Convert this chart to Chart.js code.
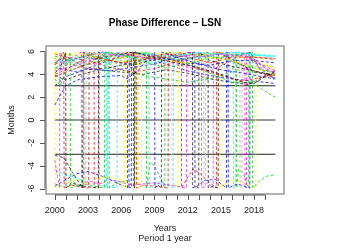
<!DOCTYPE html>
<html>
<head>
<meta charset="utf-8">
<script src="https://cdn.jsdelivr.net/npm/chart.js@4"></script>
<style>
  body { margin: 0; background: #fff; }
</style>
</head>
<body>
<canvas id="phaseChart" width="350" height="250"></canvas>
<script>
// phase difference series, [year, months]
const s0 = [[2000,-3.1],[2000.8,-3.3],[2001.6,-4.6],[2002.5,-5.95],[2002.56,5.95],[2003.5,5.3],[2005,5.6],[2007.1,5.95],[2007.14,-5.95],[2007.2,-5.95],[2007.24,5.95],[2009,5.4],[2011,5.0],[2013,4.6],[2015,4.0],[2017,3.3],[2018,3.2],[2019,3.8],[2019.9,4.2]];
const s1 = [[2000,4.8],[2000.5,5.5],[2000.8,5.95],[2000.84,-5.95],[2001.5,-5.7],[2002.5,-5.9],[2003.05,-5.95],[2003.1,5.95],[2004,5.4],[2006,5.0],[2008,5.3],[2010,5.5],[2012,4.8],[2014,4.2],[2015,3.9],[2017,3.4],[2018,3.6],[2019.9,4.0]];
const s2 = [[2000,3.6],[2000.5,3.0],[2001,4.5],[2001.38,5.95],[2001.42,-5.95],[2002.5,-5.6],[2003.5,-5.8],[2004.48,-5.95],[2004.52,5.95],[2006,5.7],[2008,5.1],[2010,4.6],[2012,4.9],[2014,5.4],[2016,5.6],[2017.85,5.95],[2017.87,-5.95],[2018.5,-5.3],[2019.2,-4.9],[2019.9,-4.8]];
const s3 = [[2000,1.3],[2000.5,2.2],[2001,3.0],[2002,3.5],[2004,3.8],[2006,3.9],[2006.5,3.6],[2007.5,4.3],[2008.5,5.5],[2009.02,5.95],[2009.04,-5.95],[2009.3,-5.7],[2009.62,-5.95],[2009.64,5.95],[2011,5.5],[2013,4.9],[2015,4.4],[2017,4.1],[2019.9,3.6]];
const s4 = [[2000,5.4],[2001,5.0],[2002,5.3],[2003.5,5.8],[2004.65,5.95],[2004.67,-5.95],[2004.78,-5.95],[2004.8,5.95],[2007,5.5],[2009,5.0],[2011,5.6],[2013,5.9],[2015,5.8],[2017,5.7],[2019.9,5.6]];
const s5 = [[2000,-3.5],[2000.2,-4.8],[2000.43,-5.95],[2000.45,5.95],[2001,5.2],[2002,5.7],[2002.39,5.95],[2002.41,-5.95],[2003,-5.3],[2004,-5.6],[2005,-5.2],[2007,-5.7],[2009,-5.5],[2011,-5.8],[2011.88,-5.95],[2011.9,5.95],[2013,5.5],[2015,5.8],[2017,5.6],[2019.9,4.3]];
const s6 = [[2000,5.95],[2000.03,-5.95],[2001,-5.5],[2002,-5.2],[2003,-5.6],[2004,-5.0],[2005,-5.0],[2006,-5.3],[2006.3,-5.95],[2006.33,5.95],[2008,5.6],[2010,5.2],[2012,5.0],[2014,5.5],[2016,5.2],[2018,4.6],[2019.9,3.9]];
const s7 = [[2000,4.4],[2001,4.9],[2002,5.5],[2002.69,5.95],[2002.71,-5.95],[2002.8,-5.9],[2002.82,5.95],[2005,5.5],[2008,5.2],[2011,5.7],[2013.45,5.95],[2013.47,-5.95],[2013.6,-5.9],[2013.62,5.95],[2015,5.5],[2017,4.9],[2019.9,4.4]];
const s8 = [[2000,4.1],[2000.5,4.6],[2000.98,5.95],[2001.0,-5.95],[2001.5,-5.5],[2002.5,-5.8],[2003.93,-5.95],[2003.95,5.95],[2005,5.2],[2007,4.8],[2009,5.3],[2011,5.7],[2012.43,5.95],[2012.45,-5.95],[2012.7,-5.8],[2013.0,-5.95],[2013.02,5.95],[2014,5.2],[2016,4.7],[2018,4.3],[2019.9,3.9]];
const s9 = [[2000,4.0],[2001,4.4],[2002,5.0],[2003,5.5],[2003.54,5.95],[2003.56,-5.95],[2003.8,-5.8],[2003.98,-5.95],[2004.0,5.95],[2006,5.8],[2008,5.4],[2010,5.8],[2012,5.5],[2014,5.0],[2016,5.5],[2018,5.5],[2019.9,5.4]];
const s10 = [[2000,5.6],[2001,5.3],[2002,4.6],[2003,4.9],[2004.2,5.6],[2004.89,5.95],[2004.91,-5.95],[2005.5,-5.6],[2006.5,-5.3],[2007.21,-5.95],[2007.23,5.95],[2009,5.6],[2011,5.3],[2013,4.5],[2015,3.7],[2016,3.3],[2018,3.2],[2019,2.5],[2019.9,2.0]];
const s11 = [[2000,-5.8],[2001,-5.2],[2002,-4.7],[2003,-4.5],[2004.5,-5.0],[2006,-5.7],[2006.91,-5.95],[2006.93,5.95],[2008,5.7],[2010,5.4],[2012,5.0],[2014,4.8],[2016,5.2],[2018,5.2],[2019.9,5.0]];
const s12 = [[2000,-4.4],[2001,-4.8],[2002,-5.1],[2003,-5.5],[2004.5,-5.8],[2005.62,-5.95],[2005.64,5.95],[2007,5.4],[2008.51,5.95],[2008.53,-5.95],[2009.5,-5.4],[2010.68,-5.95],[2010.7,5.95],[2012,5.4],[2014,5.7],[2016,5.9],[2018,5.8],[2019.9,5.6]];
const s13 = [[2000,4.9],[2002,5.4],[2004,5.9],[2006,5.6],[2008,5.8],[2010,5.5],[2012,5.6],[2013.24,5.95],[2013.26,-5.95],[2013.8,-5.5],[2014.3,-5.95],[2014.32,5.95],[2016,5.6],[2017,5.8],[2018,5.2],[2019.9,4.0]];
const s14 = [[2000,5.9],[2002,5.6],[2004,5.8],[2006,5.4],[2007.51,5.95],[2007.53,-5.95],[2007.7,-5.9],[2007.82,-5.95],[2007.84,5.95],[2009,5.8],[2011,5.9],[2013,5.6],[2015,5.9],[2017,5.5],[2019.9,4.5]];
const s15 = [[2000,5.2],[2002,5.0],[2004,4.8],[2006,5.2],[2008,4.8],[2010,5.0],[2012,5.4],[2014,5.8],[2016,5.9],[2016.71,5.95],[2016.73,-5.95],[2016.9,-5.95],[2016.92,5.95],[2018,5.0],[2019.9,4.6]];
const s16 = [[2000,5.0],[2001,5.6],[2002,5.0],[2003,4.4],[2005,4.6],[2007,5.0],[2009,5.5],[2011,5.2],[2013,5.6],[2013.84,5.95],[2013.86,-5.95],[2014.3,-5.8],[2014.75,-5.95],[2014.77,5.95],[2016,5.3],[2018,4.2],[2019.9,3.9]];
const s17 = [[2000,3.8],[2001,4.2],[2003,4.9],[2005,5.3],[2007.36,5.95],[2007.38,-5.95],[2008,-5.7],[2009,-5.8],[2010.23,-5.95],[2010.25,5.95],[2011,5.7],[2011.43,5.95],[2011.45,-5.95],[2012,-5.0],[2012.5,-4.3],[2013,-4.6],[2014,-5.5],[2014.6,-5.95],[2014.62,5.95],[2016,5.2],[2018,4.3],[2019.9,3.7]];
const s18 = [[2000,4.5],[2001,5.1],[2003,5.7],[2005,5.2],[2007,5.7],[2008.27,5.95],[2008.29,-5.95],[2008.6,-3.7],[2009,-4.0],[2009.5,-5.0],[2009.93,-5.95],[2009.95,5.95],[2011,5.5],[2013,5.8],[2015,5.4],[2017,4.8],[2019.9,4.1]];
const s19 = [[2000,3.0],[2001,3.8],[2003,4.5],[2005,4.3],[2007,4.6],[2009,4.9],[2011,5.5],[2012.64,5.95],[2012.66,-5.95],[2013.5,-5.3],[2014.5,-5.2],[2015.5,-5.95],[2015.52,5.95],[2015.6,5.9],[2015.65,5.95],[2015.67,-5.95],[2016.5,-5.6],[2017.61,-5.95],[2017.63,5.95],[2018.5,4.5],[2019.9,3.6]];
const s20 = [[2000,5.0],[2002,5.5],[2004,5.3],[2006,5.7],[2008,5.9],[2010,5.6],[2012,5.3],[2014,5.6],[2015.5,5.9],[2016.11,5.95],[2016.13,-5.95],[2016.3,-5.95],[2016.32,5.95],[2017,5.9],[2018,5.7],[2019.9,5.5]];
const s21 = [[2000,4.3],[2002,4.8],[2004,5.5],[2006,5.9],[2008,5.5],[2010,5.2],[2012,4.6],[2014,4.3],[2016,5.2],[2017.16,5.95],[2017.18,-5.95],[2017.25,-5.9],[2017.31,-5.95],[2017.33,5.95],[2018.5,4.5],[2019.9,4.2]];
const s22 = [[2000,5.5],[2002,5.9],[2004,5.4],[2006,5.1],[2008,5.3],[2010,5.7],[2010.53,5.95],[2010.55,-5.95],[2010.9,-5.6],[2011.13,-5.95],[2011.15,5.95],[2012,5.7],[2014,5.8],[2014.9,5.95],[2014.92,-5.95],[2016,-5.2],[2017,-5.5],[2018.15,-5.95],[2018.17,5.95],[2019,5.0],[2019.9,4.4]];
const s23 = [[2000,4.6],[2003,5.2],[2006,4.9],[2009,5.6],[2012,5.2],[2015,4.6],[2018,4.2],[2019.9,4.0]];
const s24 = [[2000,3.9],[2001,3.5],[2002,3.9],[2004,4.4],[2006,4.2],[2008,4.0],[2010,4.4],[2012,4.1],[2014,3.6],[2016,3.3],[2017.5,3.1],[2019,3.9],[2019.9,4.3]];
const s25 = [[2000,5.8],[2001,5.5],[2003,5.2],[2005,4.6],[2007,4.2],[2009,4.5],[2011,5.1],[2013,5.6],[2015,5.9],[2017,5.6],[2019.9,5.3]];
const s26 = [[2000,-5.6],[2001,-5.9],[2001.8,-5.5],[2002.6,-5.95],[2002.62,5.95],[2004,5.3],[2006,4.4],[2008,3.9],[2010,3.6],[2012,3.3],[2014,3.6],[2016,4.2],[2016.4,5.95],[2016.42,-5.95],[2016.6,-4.3],[2017,-4.6],[2017.5,-5.95],[2017.52,5.95],[2019,4.5],[2019.9,3.4]];
const s27 = [[2000,4.6],[2002,4.2],[2004,4.9],[2006,5.6],[2006.55,5.95],[2006.57,-5.95],[2006.7,-5.9],[2006.72,5.95],[2008,5.5],[2010,4.9],[2012,4.3],[2014,3.9],[2016,3.6],[2018,3.4],[2019.9,3.2]];

const series = [s0, s1, s2, s3, s4, s5, s6, s7, s8, s9, s10, s11, s12, s13,
                s14, s15, s16, s17, s18, s19, s20, s21, s22, s23, s24, s25, s26, s27];
const palette = ['rgba(0,0,0,0.7)', 'rgba(255,0,0,0.75)', 'rgba(0,205,0,0.75)', 'rgba(0,0,255,0.75)',
                 'rgba(0,255,255,0.8)', 'rgba(255,0,255,0.7)', 'rgba(255,255,0,0.9)', 'rgba(190,190,190,0.9)'];

// reference lines
const refLevels = [3, 0, -3];
const refColors = ['#222', '#999', '#222'];
const refWidths = [1, 2, 1];
const xStart = 2000, xEnd = 2019.92;

const xTicks = [];
for (let y = 2000; y <= 2019; y++) xTicks.push(y);
const xLabels = [2000, 2003, 2006, 2009, 2012, 2015, 2018];
const yTicks = [-6, -4, -2, 0, 2, 4, 6];

const datasets = series.map((s, i) => ({
    data: s.map(p => ({ x: p[0], y: p[1] })),
    borderColor: palette[i % palette.length],
    borderWidth: 1,
    borderDash: [3, 2],
    pointRadius: 0,
    tension: 0
}));
refLevels.forEach((v, i) => {
    datasets.push({
        data: [{ x: xStart, y: v }, { x: xEnd, y: v }],
        borderColor: refColors[i],
        borderWidth: refWidths[i],
        pointRadius: 0
    });
});

// R-style frame, axes and texts
const rFrame = {
    id: 'rFrame',
    afterDraw(chart) {
        const ctx = chart.ctx;
        const a = chart.chartArea;
        const xs = chart.scales.x, ys = chart.scales.y;
        ctx.save();
        ctx.strokeStyle = '#999';
        ctx.lineWidth = 1.5;
        ctx.strokeRect(a.left, a.top, a.right - a.left, a.bottom - a.top);

        ctx.strokeStyle = '#555';
        ctx.lineWidth = 1;
        ctx.fillStyle = '#222';
        ctx.font = '9px "Liberation Sans", Arial, sans-serif';
        ctx.textAlign = 'center';
        ctx.textBaseline = 'middle';
        // x axis
        const xb = a.bottom + 1;
        ctx.beginPath();
        ctx.moveTo(xs.getPixelForValue(xTicks[0]), xb);
        ctx.lineTo(xs.getPixelForValue(xTicks[xTicks.length - 1]), xb);
        xTicks.forEach(t => {
            const px = Math.round(xs.getPixelForValue(t)) + 0.5;
            ctx.moveTo(px, xb);
            ctx.lineTo(px, xb + 5);
        });
        ctx.stroke();
        xLabels.forEach(t => ctx.fillText(String(t), xs.getPixelForValue(t), xb + 16));
        // y axis
        const yl = a.left - 1;
        ctx.beginPath();
        ctx.moveTo(yl, ys.getPixelForValue(yTicks[0]));
        ctx.lineTo(yl, ys.getPixelForValue(yTicks[yTicks.length - 1]));
        yTicks.forEach(t => {
            const py = Math.round(ys.getPixelForValue(t)) + 0.5;
            ctx.moveTo(yl, py);
            ctx.lineTo(yl - 5, py);
        });
        ctx.stroke();
        yTicks.forEach(t => {
            ctx.save();
            ctx.translate(yl - 13, ys.getPixelForValue(t));
            ctx.rotate(-Math.PI / 2);
            ctx.fillText(String(t), 0, 0);
            ctx.restore();
        });
        // titles
        ctx.fillText('Years', 165, 229);
        ctx.fillText('Period 1 year', 165, 239);
        ctx.save();
        ctx.translate(12, 120);
        ctx.rotate(-Math.PI / 2);
        ctx.fillText('Months', 0, 0);
        ctx.restore();
        ctx.font = 'bold 10px "Liberation Sans", Arial, sans-serif';
        ctx.fillStyle = '#000';
        ctx.fillText('Phase Difference \u2013 LSN', 165, 23);
        ctx.restore();
    }
};

new Chart(document.getElementById('phaseChart'), {
    type: 'line',
    data: { datasets: datasets },
    options: {
        responsive: false,
        animation: false,
        layout: { padding: { left: 46, right: 66, top: 46, bottom: 56 } },
        plugins: { legend: { display: false }, tooltip: { enabled: false } },
        scales: {
            x: { type: 'linear', min: 1999.2, max: 2020.7, display: false },
            y: { type: 'linear', min: -6.48, max: 6.48, display: false }
        }
    },
    plugins: [rFrame]
});
</script>
</body>
</html>
